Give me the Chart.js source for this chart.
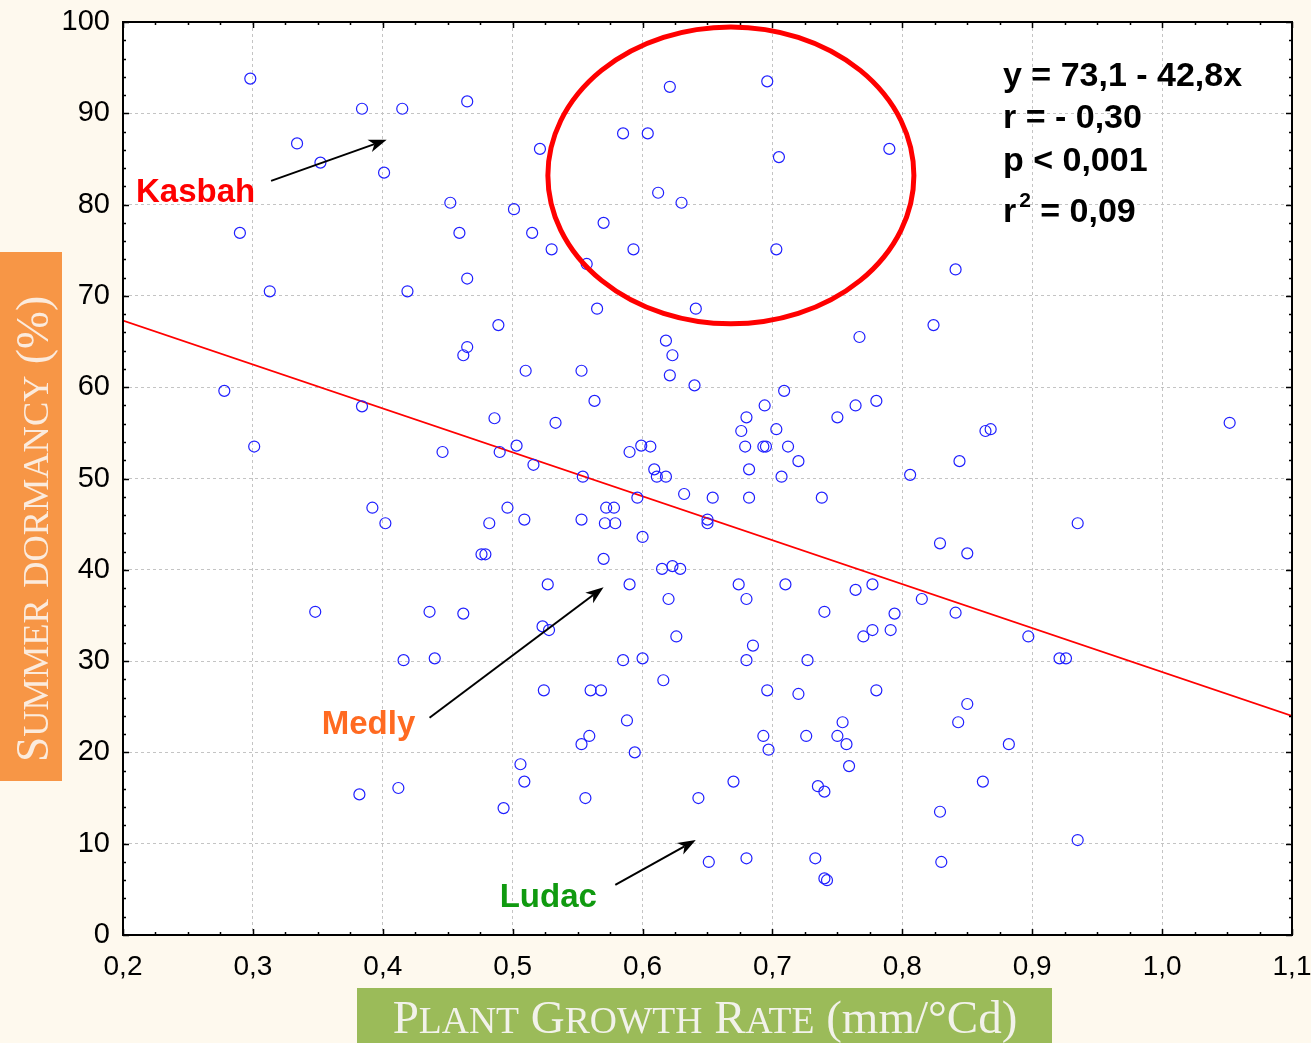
<!DOCTYPE html>
<html><head><meta charset="utf-8">
<script src="https://cdn.jsdelivr.net/npm/chart.js@4.4.0/dist/chart.umd.min.js"></script>
<style>
html,body{margin:0;padding:0;background:#FEF9EE;}
canvas{display:block;}
</style></head><body>
<canvas id="c" width="1311" height="1043"></canvas>
<script>
// ---- data ----
const growthRate = [
0.298,0.290,0.313,0.334,0.352,0.384,0.415,0.401,0.452,0.459,0.465,0.419,0.465,0.521,0.501,0.515,0.530,0.570,0.557,0.585,
0.604,0.621,0.696,0.705,0.790,0.612,0.630,0.593,0.703,0.565,0.641,0.841,0.824,0.489,0.465,0.462,0.618,0.767,0.278,0.301,
0.384,0.392,0.402,0.446,0.510,0.486,0.490,0.503,0.516,0.496,0.482,0.509,0.476,0.479,0.527,0.348,0.436,0.462,0.523,0.528,
0.416,0.440,0.524,0.382,0.412,0.493,0.506,0.509,0.553,0.623,0.621,0.640,0.563,0.533,0.554,0.553,0.572,0.578,0.571,0.579,
0.590,0.599,0.606,0.609,0.611,0.618,0.596,0.632,0.654,0.650,0.650,0.600,0.570,0.615,0.623,0.629,0.590,0.620,0.626,
0.680,0.694,0.709,0.676,0.703,0.679,0.693,0.695,0.712,0.720,0.682,0.707,0.682,0.750,0.764,0.780,0.806,0.738,0.829,
0.674,0.680,0.710,0.740,0.764,0.777,0.794,0.815,0.770,0.777,0.791,0.685,1.052,0.864,0.868,0.844,0.935,0.850,0.841,0.897,
0.585,0.600,0.680,0.727,0.560,0.568,0.616,0.696,0.720,0.780,0.588,0.559,0.553,0.594,0.693,0.697,0.726,0.754,0.750,0.757,
0.759,0.556,0.643,0.670,0.735,0.740,0.829,0.651,0.680,0.733,0.740,0.742,0.830,0.921,0.926,0.850,0.843,0.882,0.862,0.935
];
const dormancy = [
93.8,76.9,70.5,86.7,84.6,90.5,90.5,83.5,80.2,76.9,91.3,70.5,71.9,86.1,79.5,76.9,75.1,78.0,73.5,87.8,
87.8,92.9,93.5,85.2,86.1,81.3,80.2,75.1,75.1,68.6,68.6,72.9,66.8,66.8,64.4,63.5,65.1,65.5,59.6,53.5,
57.9,46.8,45.1,52.9,61.8,56.6,52.9,53.6,51.5,46.8,45.1,45.5,41.7,41.7,38.4,35.4,35.4,35.2,33.8,33.4,
30.1,30.3,26.8,15.4,16.1,13.9,18.7,16.8,61.8,63.5,61.3,60.2,58.5,56.1,50.2,45.5,46.8,46.8,45.1,45.1,
52.9,53.6,53.5,51.0,50.2,50.2,47.9,48.3,47.9,45.5,45.1,43.6,41.2,40.1,40.4,40.1,38.4,36.8,32.7,
56.7,58.0,59.6,55.2,55.4,53.5,53.5,53.5,53.5,51.9,51.0,50.2,47.9,56.7,58.0,58.5,50.4,47.9,42.9,
38.4,36.8,38.4,35.4,37.8,38.4,35.2,36.8,32.7,33.4,33.4,31.7,56.1,55.2,55.4,51.9,45.1,41.8,35.3,32.7,
30.1,30.3,30.1,30.1,26.8,26.8,27.9,26.8,26.4,26.8,23.5,21.8,20.9,20.0,21.8,20.3,21.8,23.3,21.8,20.9,
18.5,15.0,15.0,16.8,16.3,15.7,13.5,8.0,8.4,8.4,6.2,6.0,8.0,30.3,30.3,25.3,23.3,20.9,16.8,10.4
];
const fitX = [0.2, 1.1];
const fitY = [67.3, 24.0];
const xTickValues = [0.2,0.3,0.4,0.5,0.6,0.7,0.8,0.9,1.0,1.1];
const xTickLabels = ['0,2','0,3','0,4','0,5','0,6','0,7','0,8','0,9','1,0','1,1'];
const yTickValues = [0,10,20,30,40,50,60,70,80,90,100];
const yTickLabels = ['0','10','20','30','40','50','60','70','80','90','100'];
const statLines = ['y = 73,1 - 42,8x', 'r = - 0,30', 'p < 0,001', '= 0,09'];
const cultivars = ['Kasbah', 'Medly', 'Ludac'];

// ---- annotation placement (data units) ----
const ann = {
  ellipse: {cx: 0.668, cy: 83.2, rx: 0.1409, ry: 16.26},
  arrows: [
    {x1: 0.314, y1: 82.6, x2: 0.403, y2: 87.1},
    {x1: 0.436, y1: 23.8, x2: 0.570, y2: 38.1},
    {x1: 0.579, y1: 5.5,  x2: 0.641, y2: 10.4}
  ],
  labels: [
    {x: 0.210, y: 80.3, color: '#FF0000'},
    {x: 0.353, y: 22.0, color: '#FF6A21'},
    {x: 0.490, y: 3.1,  color: '#109A10'}
  ],
  stats: {x: 0.8775, ys: [93.0, 88.4, 83.7, 78.1]}
};

function drawSmallCaps(ctx, segments, size, ratio, family, x, y) {
  const runs = [];
  segments.forEach(([t, sc]) => {
    if (!sc) { runs.push({t, s: size}); return; }
    let cur = '', curSmall = null;
    for (const ch of t) {
      const small = ch !== ch.toUpperCase();
      const out = small ? ch.toUpperCase() : ch;
      if (curSmall === null || small === curSmall) { cur += out; curSmall = small; }
      else { runs.push({t: cur, s: curSmall ? size * ratio : size}); cur = out; curSmall = small; }
    }
    if (cur) runs.push({t: cur, s: curSmall ? size * ratio : size});
  });
  let total = 0;
  runs.forEach(r => { ctx.font = r.s + 'px ' + family; r.w = ctx.measureText(r.t).width; total += r.w; });
  let cx = x - total / 2;
  ctx.textAlign = 'left'; ctx.textBaseline = 'alphabetic';
  runs.forEach(r => { ctx.font = r.s + 'px ' + family; ctx.fillText(r.t, cx, y); cx += r.w; });
}

function arrow(ctx, x1, y1, x2, y2) {
  const ang = Math.atan2(y2 - y1, x2 - x1);
  const L = 18, W = 6.5, notch = 5;
  ctx.beginPath();
  ctx.moveTo(x1, y1);
  ctx.lineTo(x2 - Math.cos(ang) * (L - notch), y2 - Math.sin(ang) * (L - notch));
  ctx.stroke();
  ctx.save();
  ctx.translate(x2, y2); ctx.rotate(ang);
  ctx.beginPath();
  ctx.moveTo(0, 0); ctx.lineTo(-L, -W); ctx.lineTo(-L + notch, 0); ctx.lineTo(-L, W); ctx.closePath();
  ctx.fill();
  ctx.restore();
}

const deco = {
  id: 'deco',
  beforeDraw(chart) {
    const {ctx, chartArea: a} = chart;
    ctx.save();
    ctx.fillStyle = '#FEF9EE'; ctx.fillRect(0, 0, chart.width, chart.height);
    ctx.fillStyle = '#FFFFFF'; ctx.fillRect(a.left, a.top, a.right - a.left, a.bottom - a.top);
    ctx.restore();
  },
  afterDraw(chart) {
    const {ctx, chartArea: a} = chart;
    const xs = chart.scales.x, ys = chart.scales.y;
    const X = v => xs.getPixelForValue(v), Y = v => ys.getPixelForValue(v);
    ctx.save();
    // frame
    ctx.strokeStyle = '#000'; ctx.lineWidth = 2;
    ctx.strokeRect(a.left, a.top, a.right - a.left, a.bottom - a.top);
    // inward ticks
    ctx.lineWidth = 1.5;
    ctx.beginPath();
    for (let i = 0; i <= 36; i++) {
      const px = Math.round(X(0.2 + i * 0.025)) + 0.5;
      const len = i % 4 === 0 ? 6 : 3;
      ctx.moveTo(px, a.bottom); ctx.lineTo(px, a.bottom - len);
      ctx.moveTo(px, a.top); ctx.lineTo(px, a.top + len);
    }
    for (let i = 0; i <= 50; i++) {
      const py = Math.round(Y(i * 2)) + 0.5;
      const len = i % 5 === 0 ? 6 : 3;
      ctx.moveTo(a.left, py); ctx.lineTo(a.left + len, py);
      ctx.moveTo(a.right, py); ctx.lineTo(a.right - len, py);
    }
    ctx.stroke();
    // ellipse
    const e = ann.ellipse;
    ctx.strokeStyle = '#FF0000'; ctx.lineWidth = 5;
    ctx.beginPath();
    ctx.ellipse(X(e.cx), Y(e.cy), Math.abs(X(e.cx + e.rx) - X(e.cx)), Math.abs(Y(e.cy + e.ry) - Y(e.cy)), 0, 0, Math.PI * 2);
    ctx.stroke();
    // arrows
    ctx.strokeStyle = '#000'; ctx.fillStyle = '#000'; ctx.lineWidth = 2;
    ann.arrows.forEach(r => arrow(ctx, X(r.x1), Y(r.y1), X(r.x2), Y(r.y2)));
    // cultivar labels
    ctx.textAlign = 'left'; ctx.textBaseline = 'alphabetic';
    ctx.font = 'bold 33px "Liberation Sans", Arial, sans-serif';
    ann.labels.forEach((l, i) => { ctx.fillStyle = l.color; ctx.fillText(cultivars[i], X(l.x), Y(l.y)); });
    // statistics
    ctx.fillStyle = '#000';
    ctx.font = 'bold 34px "Liberation Sans", Arial, sans-serif';
    const sx = X(ann.stats.x);
    ctx.fillText(statLines[0], sx, Y(ann.stats.ys[0]));
    ctx.fillText(statLines[1], sx, Y(ann.stats.ys[1]));
    ctx.fillText(statLines[2], sx, Y(ann.stats.ys[2]));
    const by = Y(ann.stats.ys[3]);
    ctx.fillText('r', sx, by);
    const rw = ctx.measureText('r').width;
    ctx.font = 'bold 21px "Liberation Sans", Arial, sans-serif';
    ctx.fillText('2', sx + rw + 3, by - 15);
    ctx.font = 'bold 34px "Liberation Sans", Arial, sans-serif';
    ctx.fillText(statLines[3], sx + rw + 24, by);
    // axis title boxes
    ctx.fillStyle = '#9BBB59';
    ctx.fillRect(357, 988, 695, 55);
    ctx.fillStyle = '#F2F2EA';
    drawSmallCaps(ctx, [['Plant Growth Rate', true], [' (mm/°Cd)', false]], 47, 0.8, '"Liberation Serif", serif', 705, 1033);
    ctx.fillStyle = '#F79646';
    ctx.fillRect(0, 252, 62, 529);
    ctx.fillStyle = '#FBEBDD';
    ctx.translate(48, 529); ctx.rotate(-Math.PI / 2);
    drawSmallCaps(ctx, [['Summer dormancy', true], [' (%)', false]], 45.5, 0.8, '"Liberation Serif", serif', 0, 0);
    ctx.restore();
  }
};

new Chart(document.getElementById('c'), {
  data: {
    datasets: [
      {
        type: 'scatter',
        data: growthRate.map((g, i) => ({x: g, y: dormancy[i]})),
        pointRadius: 5.5, pointHoverRadius: 5.5,
        borderColor: '#1F1FFF', backgroundColor: 'rgba(0,0,0,0)', borderWidth: 1.2,
        order: 0
      },
      {
        type: 'line',
        data: fitX.map((x, i) => ({x: x, y: fitY[i]})),
        borderColor: '#FF0000', borderWidth: 1.6, pointRadius: 0, fill: false,
        order: 1
      }
    ]
  },
  options: {
    responsive: false, animation: false, devicePixelRatio: 1, events: [],
    layout: {padding: {top: 22, right: 19, left: 0, bottom: 0}},
    plugins: {legend: {display: false}, tooltip: {enabled: false}},
    scales: {
      x: {
        type: 'linear', min: 0.2, max: 1.1,
        afterBuildTicks: s => { s.ticks = xTickValues.map(v => ({value: v})); },
        afterFit: s => { s.height = 108; s.paddingLeft = 0; s.paddingRight = 0; },
        ticks: {callback: (v, i) => xTickLabels[i], font: {family: '"Liberation Sans", Arial, sans-serif', size: 28}, color: '#000', padding: 15, maxRotation: 0, autoSkip: false},
        grid: {color: '#C4C4C4', lineWidth: 1, drawTicks: false},
        border: {display: false, dash: [3, 3]}
      },
      y: {
        type: 'linear', min: 0, max: 100,
        afterBuildTicks: s => { s.ticks = yTickValues.map(v => ({value: v})); },
        afterFit: s => { s.width = 123; s.paddingTop = 0; s.paddingBottom = 0; },
        ticks: {callback: (v, i) => yTickLabels[i], font: {family: '"Liberation Sans", Arial, sans-serif', size: 29}, color: '#000', padding: 13, autoSkip: false},
        grid: {color: '#C4C4C4', lineWidth: 1, drawTicks: false},
        border: {display: false, dash: [3, 3]}
      }
    }
  },
  plugins: [deco]
});
</script>
</body></html>
